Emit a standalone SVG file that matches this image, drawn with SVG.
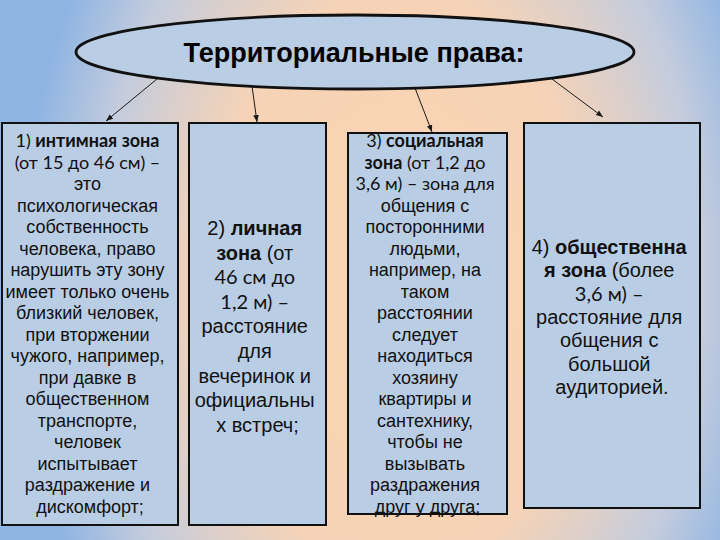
<svg xmlns="http://www.w3.org/2000/svg" width="720" height="540" viewBox="0 0 720 540">
<defs>
<radialGradient id="bg" gradientUnits="userSpaceOnUse" cx="400" cy="280" r="380" gradientTransform="translate(400 280) scale(1 1.5) translate(-400 -280)">
<stop offset="0" stop-color="#FBD5B2"/>
<stop offset="0.5" stop-color="#F6D3B6"/>
<stop offset="0.8" stop-color="#C4CCDD"/>
<stop offset="1" stop-color="#8EB4E3"/>
</radialGradient>
<marker id="ah" viewBox="0 0 10 10" refX="10" refY="5" markerWidth="7" markerHeight="7" orient="auto" markerUnits="userSpaceOnUse">
<path d="M0,1 L10,5 L0,9 z" fill="#1a1a1a"/>
</marker>
<style>
.box{fill:#B9CDE5;stroke:#111;stroke-width:2}
.ell{fill:#B9CDE5;stroke:#111;stroke-width:2.8}
.t{font-family:"Liberation Sans",Arial,sans-serif;fill:#111;text-anchor:middle}
.s18{font-size:18px}
.s20{font-size:20px}
.b{font-weight:bold}
.c{font-family:Lato,"Liberation Sans",sans-serif}
.title{font-family:"Liberation Sans",Arial,sans-serif;font-weight:bold;font-size:27px;fill:#000;text-anchor:middle}
.con{stroke:#1a1a1a;stroke-width:1;fill:none;marker-end:url(#ah)}
</style>
</defs>
<rect width="720" height="540" fill="url(#bg)"/>

<g id="connectors">
<line class="con" x1="157" y1="79" x2="106" y2="121"/>
<line class="con" x1="252" y1="86" x2="257" y2="122"/>
<line class="con" x1="415" y1="88" x2="432" y2="132"/>
<line class="con" x1="552" y1="79" x2="603" y2="117"/>
</g>

<g id="title">
<ellipse class="ell" cx="355" cy="52" rx="279" ry="37"/>
<text class="title" x="354" y="62">Территориальные права:</text>
</g>

<g id="zone1">
<rect class="box" x="2" y="123" width="176" height="402"/>
<text class="t s18">
<tspan x="90" y="147"><tspan class="c">1) </tspan><tspan class="c b">интимная зона</tspan></tspan>
<tspan x="90" y="168.5" class="c">(от 15 до 46 см) –</tspan>
<tspan x="90" y="190">это</tspan>
<tspan x="90" y="211.5">психологическая</tspan>
<tspan x="90" y="233">собственность</tspan>
<tspan x="90" y="254.5">человека, право</tspan>
<tspan x="90" y="276">нарушить эту зону</tspan>
<tspan x="90" y="297.5">имеет только очень</tspan>
<tspan x="90" y="319">близкий человек,</tspan>
<tspan x="90" y="340.5">при вторжении</tspan>
<tspan x="90" y="362">чужого, например,</tspan>
<tspan x="90" y="383.5">при давке в</tspan>
<tspan x="90" y="405">общественном</tspan>
<tspan x="90" y="426.5">транспорте,</tspan>
<tspan x="90" y="448">человек</tspan>
<tspan x="90" y="469.5">испытывает</tspan>
<tspan x="90" y="491">раздражение и</tspan>
<tspan x="90" y="512.5">дискомфорт;</tspan>
</text>
</g>

<g id="zone2">
<rect class="box" x="189" y="123" width="137" height="402"/>
<text class="t s20">
<tspan x="257.5" y="235">2) <tspan class="b">личная</tspan></tspan>
<tspan x="257.5" y="259.6"><tspan class="b">зона</tspan> (от</tspan>
<tspan x="257.5" y="284.2" class="c">46 см до</tspan>
<tspan x="257.5" y="308.8" class="c">1,2 м) –</tspan>
<tspan x="257.5" y="333.4">расстояние</tspan>
<tspan x="257.5" y="358">для</tspan>
<tspan x="257.5" y="382.6">вечеринок и</tspan>
<tspan x="257.5" y="407.2">официальны</tspan>
<tspan x="257.5" y="431.8">х встреч;</tspan>
</text>
</g>

<g id="zone3">
<rect class="box" x="348" y="133" width="159" height="381"/>
<text class="t s18">
<tspan x="427.5" y="147"><tspan class="c">3) </tspan><tspan class="c b">социальная</tspan></tspan>
<tspan x="427.5" y="168.5"><tspan class="c b">зона</tspan><tspan class="c"> (от 1,2 до</tspan></tspan>
<tspan x="427.5" y="190" class="c">3,6 м) – зона для</tspan>
<tspan x="427.5" y="211.5">общения с</tspan>
<tspan x="427.5" y="233">посторонними</tspan>
<tspan x="427.5" y="254.5">людьми,</tspan>
<tspan x="427.5" y="276">например, на</tspan>
<tspan x="427.5" y="297.5">таком</tspan>
<tspan x="427.5" y="319">расстоянии</tspan>
<tspan x="427.5" y="340.5">следует</tspan>
<tspan x="427.5" y="362">находиться</tspan>
<tspan x="427.5" y="383.5">хозяину</tspan>
<tspan x="427.5" y="405">квартиры и</tspan>
<tspan x="427.5" y="426.5">сантехнику,</tspan>
<tspan x="427.5" y="448">чтобы не</tspan>
<tspan x="427.5" y="469.5">вызывать</tspan>
<tspan x="427.5" y="491">раздражения</tspan>
<tspan x="427.5" y="512.5">друг у друга;</tspan>
</text>
</g>

<g id="zone4">
<rect class="box" x="524" y="123" width="176" height="385"/>
<text class="t s20">
<tspan x="612" y="254">4) <tspan class="b">общественна</tspan></tspan>
<tspan x="612" y="277.3"><tspan class="b">я зона</tspan> (более</tspan>
<tspan x="612" y="300.6" class="c">3,6 м) –</tspan>
<tspan x="612" y="323.9">расстояние для</tspan>
<tspan x="612" y="347.2">общения с</tspan>
<tspan x="612" y="370.5">большой</tspan>
<tspan x="612" y="393.8">аудиторией.</tspan>
</text>
</g>
</svg>
